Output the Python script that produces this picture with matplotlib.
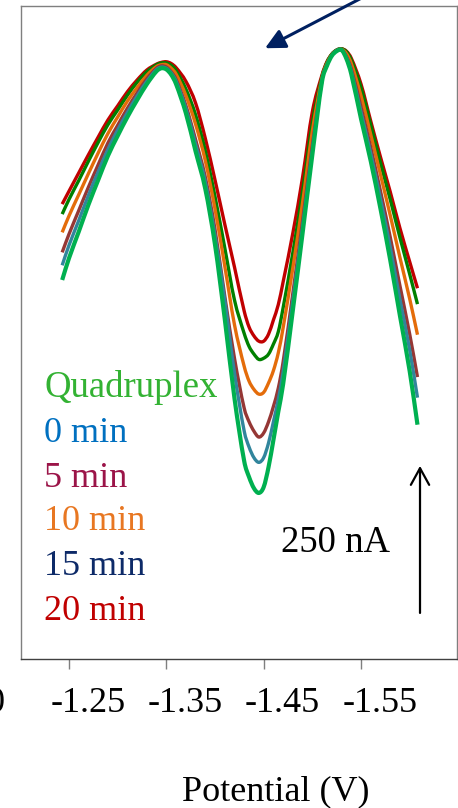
import matplotlib
matplotlib.use('Agg')
import matplotlib.pyplot as plt
from matplotlib.path import Path
from matplotlib.patches import PathPatch
from matplotlib.transforms import ScaledTranslation

plt.rcParams['font.family'] = ['Liberation Serif', 'DejaVu Serif']

# Potential (V)
potential = [-1.243, -1.25, -1.26, -1.27, -1.28, -1.29, -1.30, -1.31, -1.32, -1.33,
             -1.34, -1.345, -1.35, -1.355, -1.36, -1.37, -1.38, -1.39, -1.40, -1.41,
             -1.42, -1.43, -1.435, -1.44, -1.445, -1.45, -1.455, -1.46, -1.465, -1.47,
             -1.48, -1.49, -1.50, -1.51, -1.515, -1.52, -1.525, -1.53, -1.535, -1.54,
             -1.55, -1.56, -1.57, -1.58, -1.59, -1.60, -1.608]

# Current (nA, arbitrary offset)
current_20min = [775, 797, 828, 859, 889, 918, 942, 966, 986, 1003,
                 1013, 1016, 1017, 1014, 1007, 984, 947, 887, 816, 741,
                 668, 593, 566, 551, 542, 542, 554, 578, 604, 643,
                 726, 821, 932, 995, 1017, 1030, 1037, 1039, 1035, 1023,
                 979, 916, 855, 796, 734, 677, 632]
current_15min = [758, 783, 815, 848, 880, 910, 935, 960, 982, 1000,
                 1012, 1015, 1015, 1011, 1002, 971, 927, 866, 788, 701,
                 612, 555, 533, 520, 511, 513, 520, 537, 558, 599,
                 693, 797, 913, 992, 1016, 1030, 1037, 1039, 1034, 1020,
                 973, 909, 845, 783, 718, 656, 605]
current_10min = [727, 755, 791, 827, 862, 895, 923, 950, 973, 994,
                 1009, 1012, 1012, 1006, 996, 960, 911, 849, 767, 670,
                 570, 499, 474, 460, 452, 455, 471, 492, 522, 565,
                 667, 778, 899, 990, 1014, 1029, 1036, 1038, 1031, 1014,
                 959, 893, 825, 756, 684, 614, 553]
current_5min = [693, 724, 764, 804, 842, 879, 909, 938, 964, 988,
                1006, 1010, 1008, 1000, 987, 943, 885, 821, 732, 619,
                513, 428, 405, 389, 379, 386, 405, 431, 462, 507,
                624, 747, 875, 987, 1012, 1028, 1036, 1038, 1026, 1005,
                940, 871, 797, 719, 636, 554, 481]
current_0min = [671, 705, 747, 790, 830, 868, 901, 931, 959, 984,
                1004, 1008, 1006, 998, 984, 938, 877, 813, 721, 612,
                488, 389, 362, 344, 336, 344, 369, 405, 443, 490,
                611, 737, 867, 986, 1011, 1028, 1036, 1037, 1024, 1001,
                931, 861, 784, 702, 613, 527, 446]
current_quadruplex = [646, 683, 728, 774, 816, 857, 891, 923, 952, 979,
                      1001, 1006, 1004, 995, 979, 930, 865, 801, 706, 580,
                      445, 338, 311, 292, 284, 294, 328, 374, 422, 469,
                      595, 726, 859, 984, 1010, 1027, 1035, 1037, 1022, 996,
                      920, 848, 767, 680, 585, 491, 400]

series = [current_20min, current_15min, current_10min, current_5min, current_0min, current_quadruplex]
line_colors = ['#c00000', '#008000', '#e46c0a', '#953735', '#31859c', '#00b050']
line_widths = [2.4, 2.4, 2.4, 2.4, 2.4, 3.0]

labels = ['Quadruplex', '0 min', '5 min', '10 min', '15 min', '20 min']
label_colors = ['#33b233', '#0070c0', '#9b1448', '#e87722', '#0d2a68', '#c00000']

tick_values = [-1.25, -1.35, -1.45, -1.55]
tick_labels = ['-1.25', '-1.35', '-1.45', '-1.55']
scale_bar_nA = 250


def smoothed_line_path(x, y):
    """Excel-style smoothed line: cubic Hermite Bezier segments through the points."""
    n = len(x)
    slopes = []
    for i in range(n):
        if i == 0:
            m = (y[1] - y[0]) / (x[1] - x[0])
        elif i == n - 1:
            m = (y[-1] - y[-2]) / (x[-1] - x[-2])
        else:
            m = (y[i + 1] - y[i - 1]) / (x[i + 1] - x[i - 1])
        slopes.append(m)
    verts = [(x[0], y[0])]
    codes = [Path.MOVETO]
    for i in range(n - 1):
        h = x[i + 1] - x[i]
        verts += [(x[i] + h / 3, y[i] + slopes[i] * h / 3),
                  (x[i + 1] - h / 3, y[i + 1] - slopes[i + 1] * h / 3),
                  (x[i + 1], y[i + 1])]
        codes += [Path.CURVE4] * 3
    return Path(verts, codes)


fig = plt.figure(figsize=(4.58, 8.08), dpi=100)
ax = fig.add_axes([21 / 458, 149 / 808, 436 / 458, 653 / 808])

for y, c, lw in zip(series, line_colors, line_widths):
    patch = PathPatch(smoothed_line_path(potential, y), facecolor='none',
                      edgecolor=c, lw=lw, capstyle='butt', joinstyle='round',
                      zorder=3)
    ax.add_patch(patch)

ax.set_xlim(-1.2007, -1.6486)
ax.set_ylim(1.7, 1111.8)

ax.set_xticks(tick_values)
ax.set_xticklabels(tick_labels)
ax.set_yticks([])
ax.tick_params(axis='x', direction='out', length=7.2, width=1.0, color='#7f7f7f',
               pad=13, labelsize=26, labelcolor='black')
offset = ScaledTranslation(19 / 100, 0, fig.dpi_scale_trans)
for lab in ax.get_xticklabels():
    lab.set_transform(lab.get_transform() + offset)

for side in ['left', 'right', 'top']:
    ax.spines[side].set_color('#7f7f7f')
    ax.spines[side].set_linewidth(1.0)
ax.spines['bottom'].set_color('#404040')
ax.spines['bottom'].set_linewidth(1.0)

# legend-like coloured labels
label_y = [0.4012, 0.3328, 0.2639, 0.1975, 0.1286, 0.0597]
for txt, col, yy in zip(labels, label_colors, label_y):
    ax.text(0.0528, yy, txt, color=col, fontsize=26.5 if txt == 'Quadruplex' else 26,
            transform=ax.transAxes, ha='left', va='baseline')

# scale bar
ax.annotate('', xy=(-1.6106, 80 + scale_bar_nA), xytext=(-1.6106, 80),
            arrowprops=dict(arrowstyle='->,head_length=0.6,head_width=0.33',
                            lw=1.6, color='black', mutation_scale=20,
                            shrinkA=0, shrinkB=0))
ax.text(0.5963, 0.1643, f'{scale_bar_nA} nA', fontsize=26.5, color='black',
        transform=ax.transAxes, ha='left', va='baseline')

# navy pointer arrow coming from above
ax.annotate('', xy=(-1.4514, 1040), xycoords='data',
            xytext=(377 / 458, 1 + 10 / 808), textcoords='figure fraction',
            arrowprops=dict(arrowstyle='-|>,head_length=0.6,head_width=0.3',
                            lw=2.2, color='#002060', mutation_scale=20,
                            shrinkA=0, shrinkB=0),
            annotation_clip=False)

# cropped tick label at left edge (as in the source image) and axis title
fig.text(5 / 458, (808 - 711.7) / 808, '0', fontsize=26, ha='right', va='baseline')
fig.text(276 / 458, (808 - 800) / 808, 'Potential (V)', fontsize=26,
         ha='center', va='baseline')

fig.savefig('out.png', dpi=100)
